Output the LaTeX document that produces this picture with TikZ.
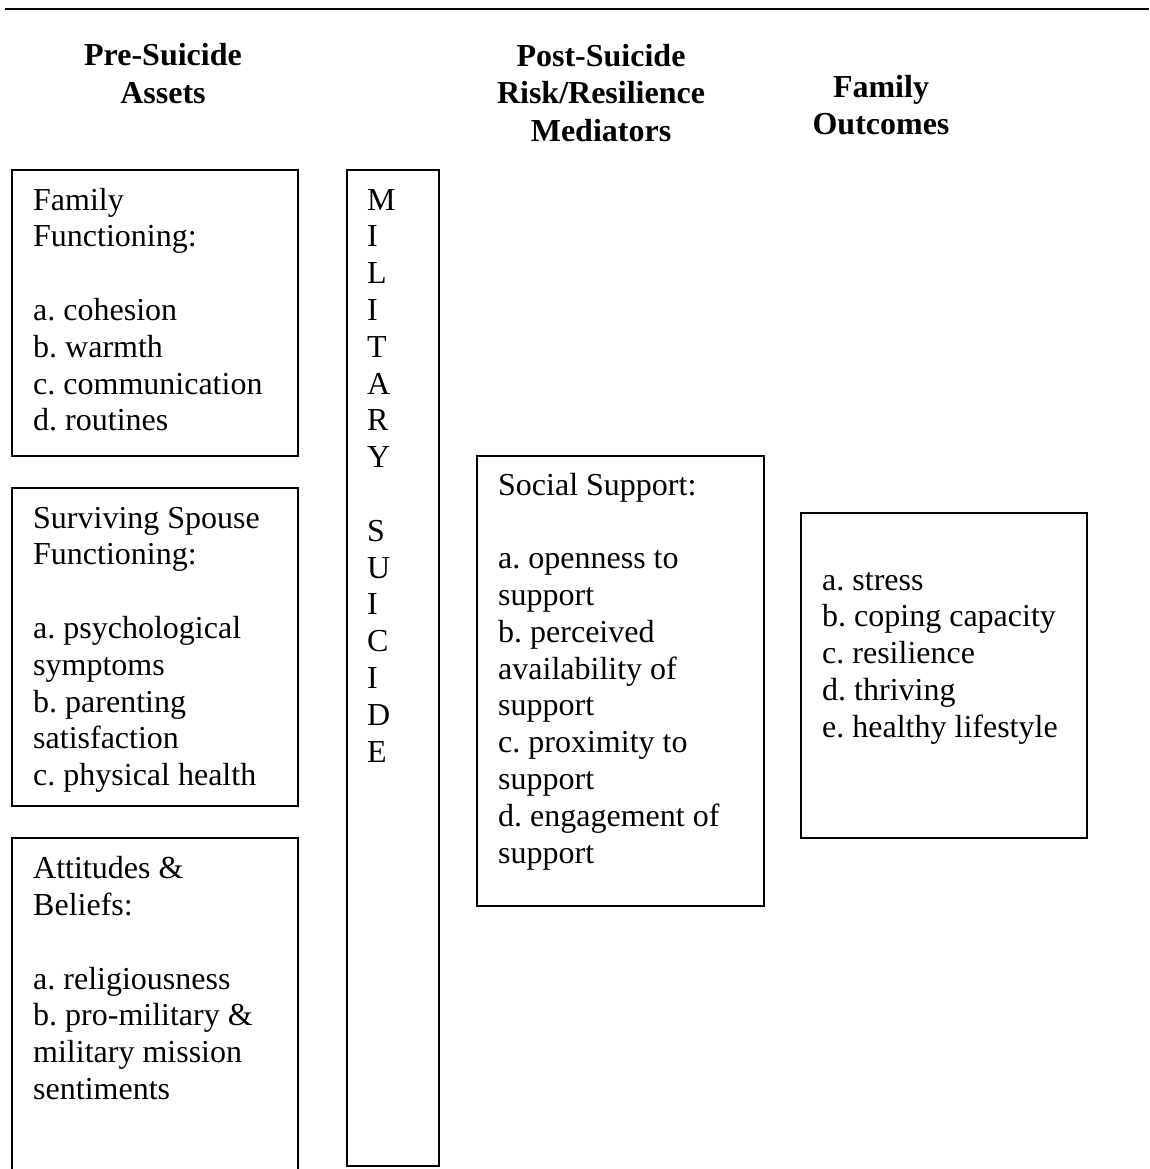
\documentclass[tikz,border=0pt]{standalone}
\usepackage{fontspec}
\setmainfont{Liberation Serif}
\frenchspacing
\begin{document}
\begin{tikzpicture}[x=1pt,y=-1pt,
  frame/.style={draw=black,line width=1.6pt,inner sep=0pt},
  body/.style={inner sep=0pt,anchor=base west,align=left,font=\fontsize{32}{36.8}\selectfont},
  head/.style={inner sep=0pt,anchor=base,align=center,font=\fontsize{32}{37.5}\selectfont\bfseries}]
\useasboundingbox (0,0) rectangle (1149,1169);
% top rule
\draw[line width=2pt] (5,9) -- (1149,9);
% headings (anchored at the baseline of their last line)
\node[head] (h1) at (163,103.5) {Pre-Suicide\\Assets};
\node[head] (h2) at (601,141.5) {Post-Suicide\\Risk/Resilience\\Mediators};
\node[head] (h3) at (881,135) {Family\\Outcomes};
% boxes
\draw[frame] (12,170) rectangle (298,456);
\draw[frame] (12,488) rectangle (298,806);
\draw[frame] (12,838) rectangle (298,1200);
\draw[frame] (347,170) rectangle (439,1166);
\draw[frame] (477,456) rectangle (764,906);
\draw[frame] (801,513) rectangle (1087,838);
% texts (anchored at the baseline of their last line)
\node[body] (t1) at (33,430.8) {Family\\Functioning:\\[36.8pt]a. cohesion\\b. warmth\\c. communication\\d. routines};
\node[body] (t2) at (33,785.6) {Surviving Spouse\\Functioning:\\[36.8pt]a. psychological\\symptoms\\b. parenting\\satisfaction\\c. physical health};
\node[body] (t3) at (33,1099.5) {Attitudes \&\\Beliefs:\\[36.8pt]a. religiousness\\b. pro-military \&\\military mission\\sentiments};
\node[body] (tm) at (367,762) {M\\I\\L\\I\\T\\A\\R\\Y\\[36.8pt]S\\U\\I\\C\\I\\D\\E};
\node[body] (t4) at (498,863) {Social Support:\\[36.8pt]a. openness to\\support\\b. perceived\\availability of\\support\\c. proximity to\\support\\d. engagement of\\support};
\node[body] (t5) at (822,737.2) {a. stress\\b. coping capacity\\c. resilience\\d. thriving\\e. healthy lifestyle};
\end{tikzpicture}
\end{document}
